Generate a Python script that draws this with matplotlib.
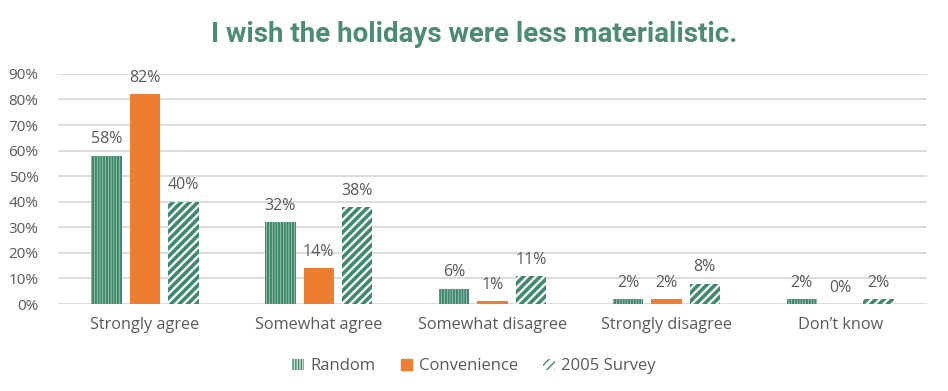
import matplotlib
matplotlib.use("Agg")
import matplotlib.pyplot as plt
from matplotlib.patches import Patch
import numpy as np

categories = ["Strongly agree", "Somewhat agree", "Somewhat disagree", "Strongly disagree", "Don\u2019t know"]
series_names = ["Random", "Convenience", "2005 Survey"]
random_vals = [58, 32, 6, 2, 2]
convenience_vals = [82, 14, 1, 2, 0]
survey_vals = [40, 38, 11, 8, 2]
yticks = [0, 10, 20, 30, 40, 50, 60, 70, 80, 90]

GREEN = "#3f8a6c"
ORANGE = "#ed7d31"
TEXT = "#595959"

plt.rcParams["font.family"] = ["Open Sans", "DejaVu Sans"]

fig = plt.figure(figsize=(9.48, 3.91), dpi=100)
ax = fig.add_axes([0.0612, 0.2225, 0.9167, 0.5885])

x = np.arange(len(categories))
w = 0.175
gap = 0.046
offsets = [-(w + gap), 0, (w + gap)]

styles = [
    dict(facecolor="#cfe2da", edgecolor=GREEN, hatch="||||||", linewidth=0),
    dict(facecolor=ORANGE, edgecolor=ORANGE, linewidth=0),
    dict(facecolor="white", edgecolor=GREEN, hatch="////", linewidth=0),
]
hlw = [1.6, 1.0, 2.6]
all_vals = [random_vals, convenience_vals, survey_vals]
for vals, off, st, name, lw in zip(all_vals, offsets, styles, series_names, hlw):
    with plt.rc_context({"hatch.linewidth": lw}):
        bars = ax.bar(x + off, np.array(vals) / 100.0, width=w, label=name, zorder=3, **st)
    for b, v in zip(bars, vals):
        ax.annotate(f"{v}%", (b.get_x() + b.get_width() / 2, b.get_height()),
                    xytext=(0, 6), textcoords="offset points", ha="center", va="bottom",
                    fontsize=11.5, color=TEXT)

ax.set_ylim(0, 0.9)
ax.set_xlim(-0.5, len(categories) - 0.5)
ax.set_yticks([t / 100 for t in yticks])
ax.set_yticklabels([f"{t}%" for t in yticks], fontsize=11, color=TEXT)
ax.set_xticks(x)
ax.set_xticklabels(categories, fontsize=11.7, color=TEXT)
ax.tick_params(axis="both", length=0)
ax.tick_params(axis="x", pad=9)
ax.tick_params(axis="y", pad=14)
ax.grid(axis="y", color="#d9d9d9", linewidth=1.3, zorder=0)
for s in ax.spines.values():
    s.set_visible(False)

fig.text(0.5, 0.912, "I wish the holidays were less materialistic.", ha="center", va="center",
         fontsize=20, fontweight="bold", color="#4d8c74", family=["Roboto", "DejaVu Sans"])

with plt.rc_context({"hatch.linewidth": 1.6}):
    h0 = Patch(**styles[0], label=series_names[0])
h1 = Patch(facecolor=ORANGE, edgecolor=ORANGE, label=series_names[1])
with plt.rc_context({"hatch.linewidth": 2.6}):
    h2 = Patch(**styles[2], label=series_names[2])
leg = fig.legend(handles=[h0, h1, h2], loc="center", bbox_to_anchor=(0.5, 0.063), ncol=3, frameon=False,
                 fontsize=12, handlelength=0.7, handleheight=0.7, columnspacing=1.5, handletextpad=0.4)
for t in leg.get_texts():
    t.set_color(TEXT)

fig.savefig("out.png", dpi=100)
